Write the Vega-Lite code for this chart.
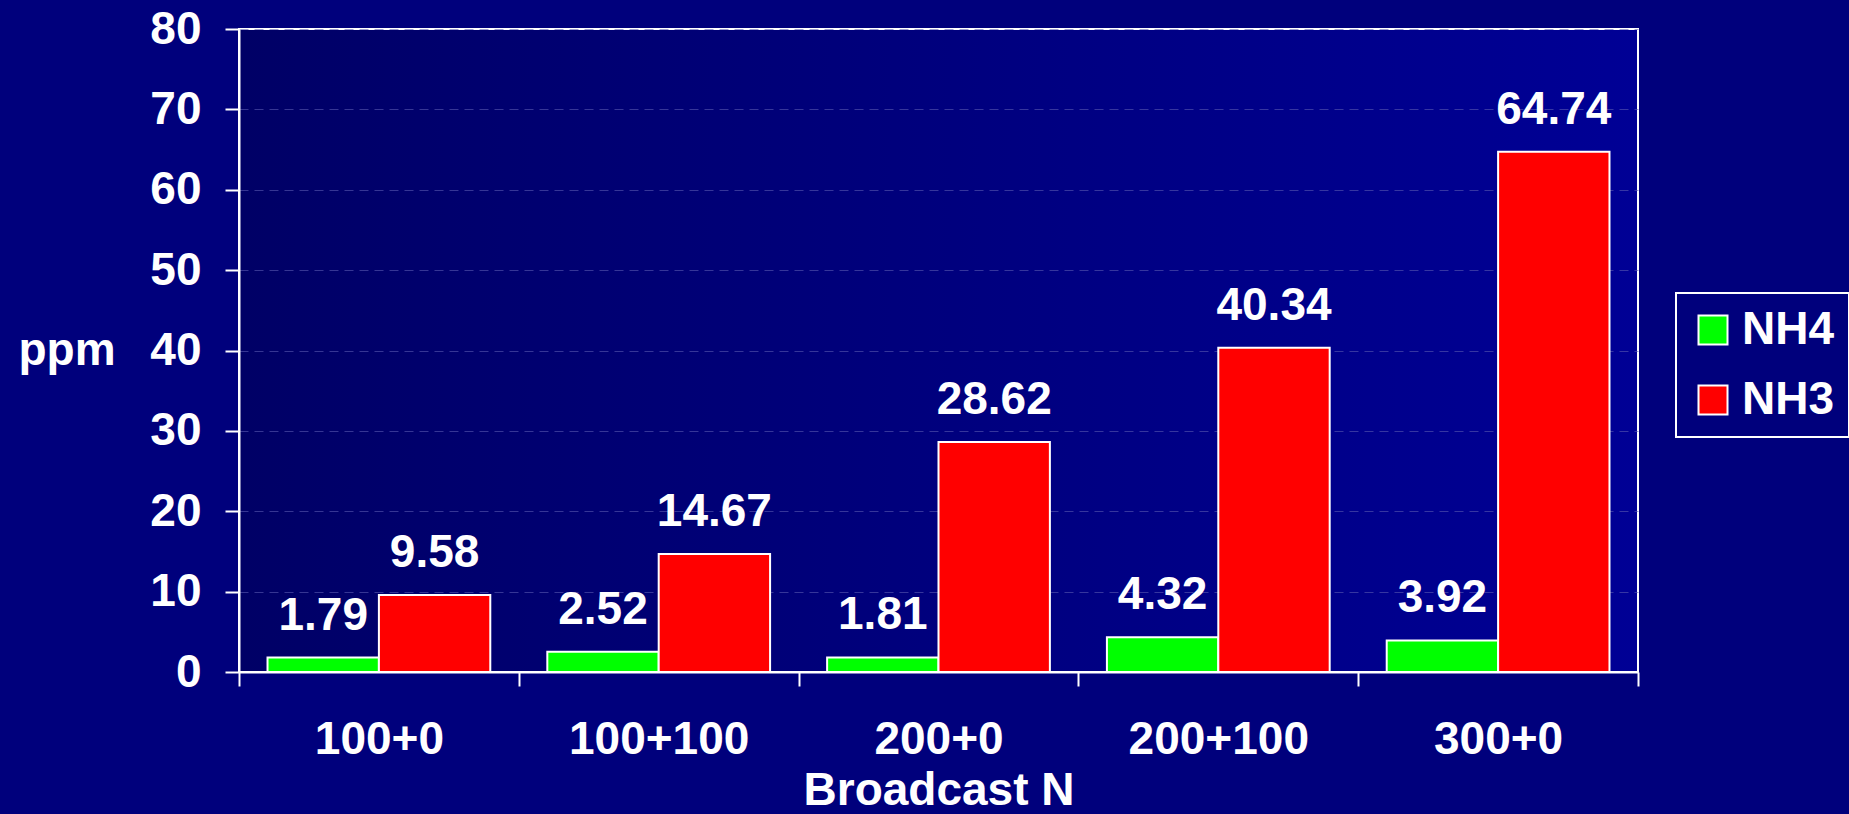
{
  "$schema": "https://vega.github.io/schema/vega-lite/v6.json",
  "autosize": {"type": "none"},
  "padding": {"left": 239, "top": 29, "right": 211, "bottom": 142},
  "width": 1399,
  "height": 643,
  "background": "#00007c",
  "data": {
    "values": [
      {"treatment": "100+0", "form": "NH4", "ppm": 1.79},
      {"treatment": "100+0", "form": "NH3", "ppm": 9.58},
      {"treatment": "100+100", "form": "NH4", "ppm": 2.52},
      {"treatment": "100+100", "form": "NH3", "ppm": 14.67},
      {"treatment": "200+0", "form": "NH4", "ppm": 1.81},
      {"treatment": "200+0", "form": "NH3", "ppm": 28.62},
      {"treatment": "200+100", "form": "NH4", "ppm": 4.32},
      {"treatment": "200+100", "form": "NH3", "ppm": 40.34},
      {"treatment": "300+0", "form": "NH4", "ppm": 3.92},
      {"treatment": "300+0", "form": "NH3", "ppm": 64.74}
    ]
  },
  "encoding": {
    "x": {
      "field": "treatment",
      "type": "nominal",
      "sort": null,
      "scale": {"paddingInner": 0, "paddingOuter": 0},
      "title": "Broadcast N",
      "axis": {
        "labelAngle": 0,
        "labelLimit": 500,
        "tickBand": "extent",
        "tickSize": 14,
        "labelBaseline": "alphabetic",
        "labelPadding": 67,
        "titleBaseline": "alphabetic",
        "titleY": 132,
        "titleAnchor": "middle"
      }
    },
    "xOffset": {
      "field": "form",
      "type": "nominal",
      "scale": {"domain": ["NH4", "NH3"], "paddingInner": 0, "paddingOuter": 0.256}
    },
    "y": {
      "field": "ppm",
      "type": "quantitative",
      "scale": {"domain": [0, 80], "nice": false},
      "title": "ppm",
      "axis": {
        "values": [0, 10, 20, 30, 40, 50, 60, 70, 80],
        "tickSize": 14,
        "labelPadding": 24,
        "titleAngle": 0,
        "titleAlign": "left",
        "titleBaseline": "alphabetic",
        "titleX": -221,
        "titleY": 335
      }
    }
  },
  "layer": [
    {
      "mark": {"type": "bar", "stroke": "white", "strokeWidth": 2},
      "encoding": {
        "color": {
          "field": "form",
          "type": "nominal",
          "scale": {"domain": ["NH4", "NH3"], "range": ["#00ff00", "#ff0000"]},
          "legend": {
            "title": null,
            "orient": "none",
            "legendX": 1437,
            "legendY": 264,
            "symbolType": "square",
            "symbolSize": 841,
            "symbolStrokeColor": "white",
            "symbolStrokeWidth": 2,
            "symbolOpacity": 1,
            "labelFontSize": 46,
            "labelFont": "Liberation Sans",
            "labelFontWeight": "bold",
            "labelColor": "white",
            "labelOffset": 6,
            "rowPadding": 24,
            "padding": 14,
            "strokeColor": "white"
          }
        }
      }
    },
    {
      "mark": {
        "type": "text",
        "baseline": "alphabetic",
        "align": "center",
        "dy": -28,
        "fontSize": 46,
        "font": "Liberation Sans",
        "fontWeight": "bold",
        "color": "white"
      },
      "encoding": {
        "text": {"field": "ppm", "type": "quantitative", "format": ".2f"}
      }
    }
  ],
  "config": {
    "view": {
      "stroke": "white",
      "strokeWidth": 2,
      "fill": {
        "gradient": "linear",
        "stops": [
          {"offset": 0, "color": "#000066"},
          {"offset": 1, "color": "#000095"}
        ]
      }
    },
    "legend": {"strokeWidth": 2},
    "axis": {
      "domainColor": "white",
      "domainWidth": 2,
      "tickColor": "white",
      "tickWidth": 2,
      "labelColor": "white",
      "labelFont": "Liberation Sans",
      "labelFontSize": 46,
      "labelFontWeight": "bold",
      "titleColor": "white",
      "titleFont": "Liberation Sans",
      "titleFontSize": 46,
      "titleFontWeight": "bold",
      "grid": false
    },
    "axisY": {
      "grid": true,
      "gridColor": "#5a5ab0",
      "gridOpacity": 0.6,
      "gridDash": [9, 6],
      "gridWidth": 1
    }
  }
}
